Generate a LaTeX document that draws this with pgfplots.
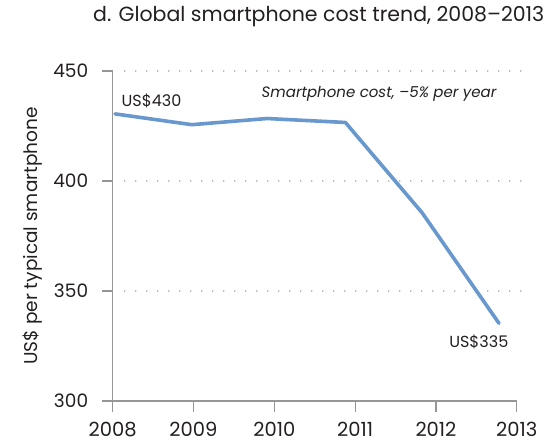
\documentclass[border=0pt]{standalone}
\usepackage{fontspec}
\setmainfont{Poppins}
\usepackage{pgfplots}
\pgfplotsset{compat=1.18}
\definecolor{linec}{RGB}{104,152,206}
\definecolor{axc}{RGB}{150,150,150}
\definecolor{gridc}{RGB}{165,165,165}
\definecolor{txt}{RGB}{35,31,32}
\begin{document}
\begin{tikzpicture}
\useasboundingbox (0pt,0pt) rectangle (548pt,442pt);
\begin{axis}[
  at={(112.6pt,41pt)}, anchor=south west,
  scale only axis, width=404.2pt, height=330pt,
  xmin=2008, xmax=2013, ymin=300, ymax=450,
  clip=false,
  axis x line*=bottom, axis y line*=left,
  axis line style={axc, line width=1.1pt, -},
  xtick={2008,2009,2010,2011,2012,2013},
  ytick={300,350,400,450},
  tick align=outside, major tick length=11pt,
  tick style={axc, line width=1.1pt},
  /pgf/number format/assume math mode=true,
  x tick label style={/pgf/number format/1000 sep={}},
  tick label style={text=txt},
  xticklabel style={font=\fontsize{19.5}{19.5}\selectfont, yshift=-6.5pt},
  yticklabel style={font=\fontsize{18.5}{18.5}\selectfont, xshift=-10pt},
  ylabel={US\$ per typical smartphone},
  ylabel style={at={(axis description cs:-0.197,0.5)}, anchor=center, font=\fontsize{18.5}{18.5}\selectfont, text=txt},
  title={d. Global smartphone cost trend, 2008--2013},
  title style={at={(axis description cs:0.51,1.148)}, anchor=center, font=\fontsize{20.5}{20.5}\selectfont, text=txt},
]
\addplot[gridc, line width=1.6pt, line cap=round, dash pattern=on 0pt off 11pt] coordinates {(2008.15,450) (2013.1,450)};
\addplot[gridc, line width=1.6pt, line cap=round, dash pattern=on 0pt off 11pt] coordinates {(2008.15,400) (2013.1,400)};
\addplot[gridc, line width=1.6pt, line cap=round, dash pattern=on 0pt off 11pt] coordinates {(2008.15,350) (2013.1,350)};
\addplot[linec, line width=3.6pt, line join=round, line cap=round] coordinates {
  (2008.03,430.5) (2008.98,425.6) (2009.91,428.4) (2010.88,426.6) (2011.83,385.5) (2012.78,335.3)
};
\node[anchor=west, inner sep=0pt, text=txt, font=\fontsize{16}{16}\selectfont] at (axis cs:2008.11,436.4) {US\$430};
\node[anchor=east, inner sep=0pt, text=txt, font=\fontsize{15}{15}\selectfont\itshape] at (axis cs:2012.75,439.5) {Smartphone cost, --5\% per year};
\node[anchor=center, inner sep=0pt, text=txt, font=\fontsize{16}{16}\selectfont] at (axis cs:2012.53,326.8) {US\$335};
\end{axis}
\end{tikzpicture}
\end{document}
